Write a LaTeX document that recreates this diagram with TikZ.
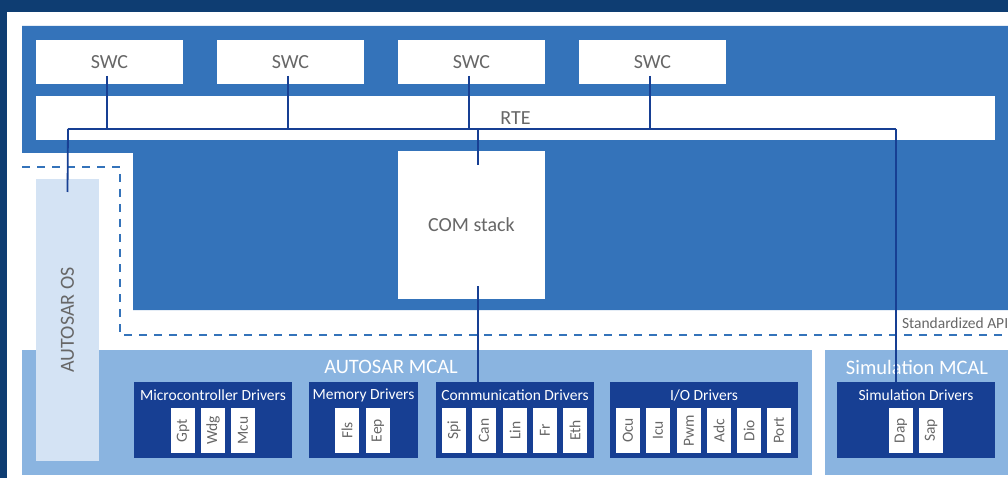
\documentclass[tikz,border=0pt]{standalone}
\usepackage{fontspec}
\setmainfont{Carlito}
\definecolor{frameA}{HTML}{0E3D72}
\definecolor{frameB}{HTML}{1560A6}
\definecolor{midblue}{HTML}{3473BA}
\definecolor{navy}{HTML}{173F93}
\definecolor{mcal}{HTML}{8AB4E0}
\definecolor{oslight}{HTML}{D4E3F4}
\definecolor{txtgray}{HTML}{676767}

\begin{document}
\begin{tikzpicture}
  [x=1pt,y=-1pt,every node/.style={inner sep=0pt,outer sep=0pt},
   whitebox/.style={fill=white,anchor=north west,text=txtgray,font=\fontsize{20}{22}\selectfont},
   group/.style={fill=navy,anchor=north west},
   grouptitle/.style={text=white,font=\fontsize{15.5}{17}\selectfont},
   chip/.style={fill=white,text=txtgray,rotate=90,minimum width=45pt,minimum height=24pt,font=\fontsize{15.5}{17}\selectfont},
   layer/.style={fill=mcal,anchor=north west,minimum height=125pt},
   layertitle/.style={text=white,font=\fontsize{20.5}{22}\selectfont},
   bus/.style={draw=navy,line width=1.8pt},
   dashline/.style={draw=midblue,line width=1.8pt,dash pattern=on 8pt off 7pt}]
  \useasboundingbox (0,0) rectangle (1008,478);
  \shade[left color=frameA,middle color=frameB,right color=frameA] (0,0) rectangle (1008,478);
  \fill[white] (7,12) rectangle (1008,478);
  \fill[midblue] (22,26) -- (1008,26) -- (1008,310) -- (133,310) -- (133,153) -- (22,153) -- cycle;
  \draw[dashline] (22,167) -- (120,167) -- (120,335) -- (1008,335);

  % application layer
  \foreach \i/\x in {1/36,2/217,3/398,4/579}
    \node[whitebox,minimum width=147pt,minimum height=44pt] (swc\i) at (\x,40) {SWC};
  \node[whitebox,minimum width=959pt,minimum height=44pt] (rte) at (36,96) {RTE};
  \node[whitebox,minimum width=147pt,minimum height=148pt] (com) at (398,151) {COM stack};
  \node[anchor=west,text=txtgray,font=\fontsize{15.5}{17}\selectfont] (api) at (902,323) {Standardized API};

  % MCAL layers
  \node[layer,minimum width=790pt] (amcal) at (22,350) {};
  \node[layer,minimum width=190pt] (smcal) at (825,350) {};
  \node[layertitle] (amcaltitle) at (391,367) {AUTOSAR MCAL};
  \node[layertitle] (smcaltitle) at (917,367) {Simulation MCAL};
  \node[fill=oslight,text=txtgray,rotate=90,minimum width=282pt,minimum height=63pt,
        font=\fontsize{20}{22}\selectfont] (os) at (67.5,320) {AUTOSAR OS};

  \node[group,minimum width=158pt,minimum height=76pt] (mcudrv) at (134,382) {};
  \node[group,minimum width=109pt,minimum height=76pt] (memdrv) at (309,382) {};
  \node[group,minimum width=158pt,minimum height=76pt] (comdrv) at (436,382) {};
  \node[group,minimum width=188pt,minimum height=76pt] (iodrv) at (610,382) {};
  \node[group,minimum width=158pt,minimum height=76pt] (simdrv) at (837,382) {};
  \node[grouptitle] at (213,395) {Microcontroller Drivers};
  \node[grouptitle] at (363.5,395) {Memory Drivers};
  \node[grouptitle] at (515,395) {Communication Drivers};
  \node[grouptitle] at (704,395) {I/O Drivers};
  \node[grouptitle] at (916,395) {Simulation Drivers};

  \foreach \x/\n in {171/Gpt,201/Wdg,231/Mcu,335/Fls,366/Eep,442/Spi,472/Can,503/Lin,533/Fr,563/Eth,
                     616/Ocu,646/Icu,677/Pwm,707/Adc,737/Dio,767/Port,889/Dap,919/Sap}
    \node[chip] (\n) at (\x+12,430.5) {\n};

  % connections
  \coordinate (busL) at (68,129);
  \coordinate (busC) at (478,129);
  \coordinate (busR) at (896,129);
  \coordinate (comout) at (478,286);
  \draw[bus] (busL) -- (busR);
  \foreach \i in {1,...,4}
    \draw[bus] ([xshift=-2.5pt,yshift=-14pt]swc\i.center) -- ([xshift=-2.5pt]swc\i.center |- busL);
  \draw[bus] (busL) -- ([yshift=-13pt]os.east);
  \draw[bus] (busC) -- ([yshift=-14pt]busC |- com.north);
  \draw[bus] (comout) -- (comout |- comdrv.north);
  \draw[bus] (busR) -- (busR |- simdrv.north);
\end{tikzpicture}
\end{document}
